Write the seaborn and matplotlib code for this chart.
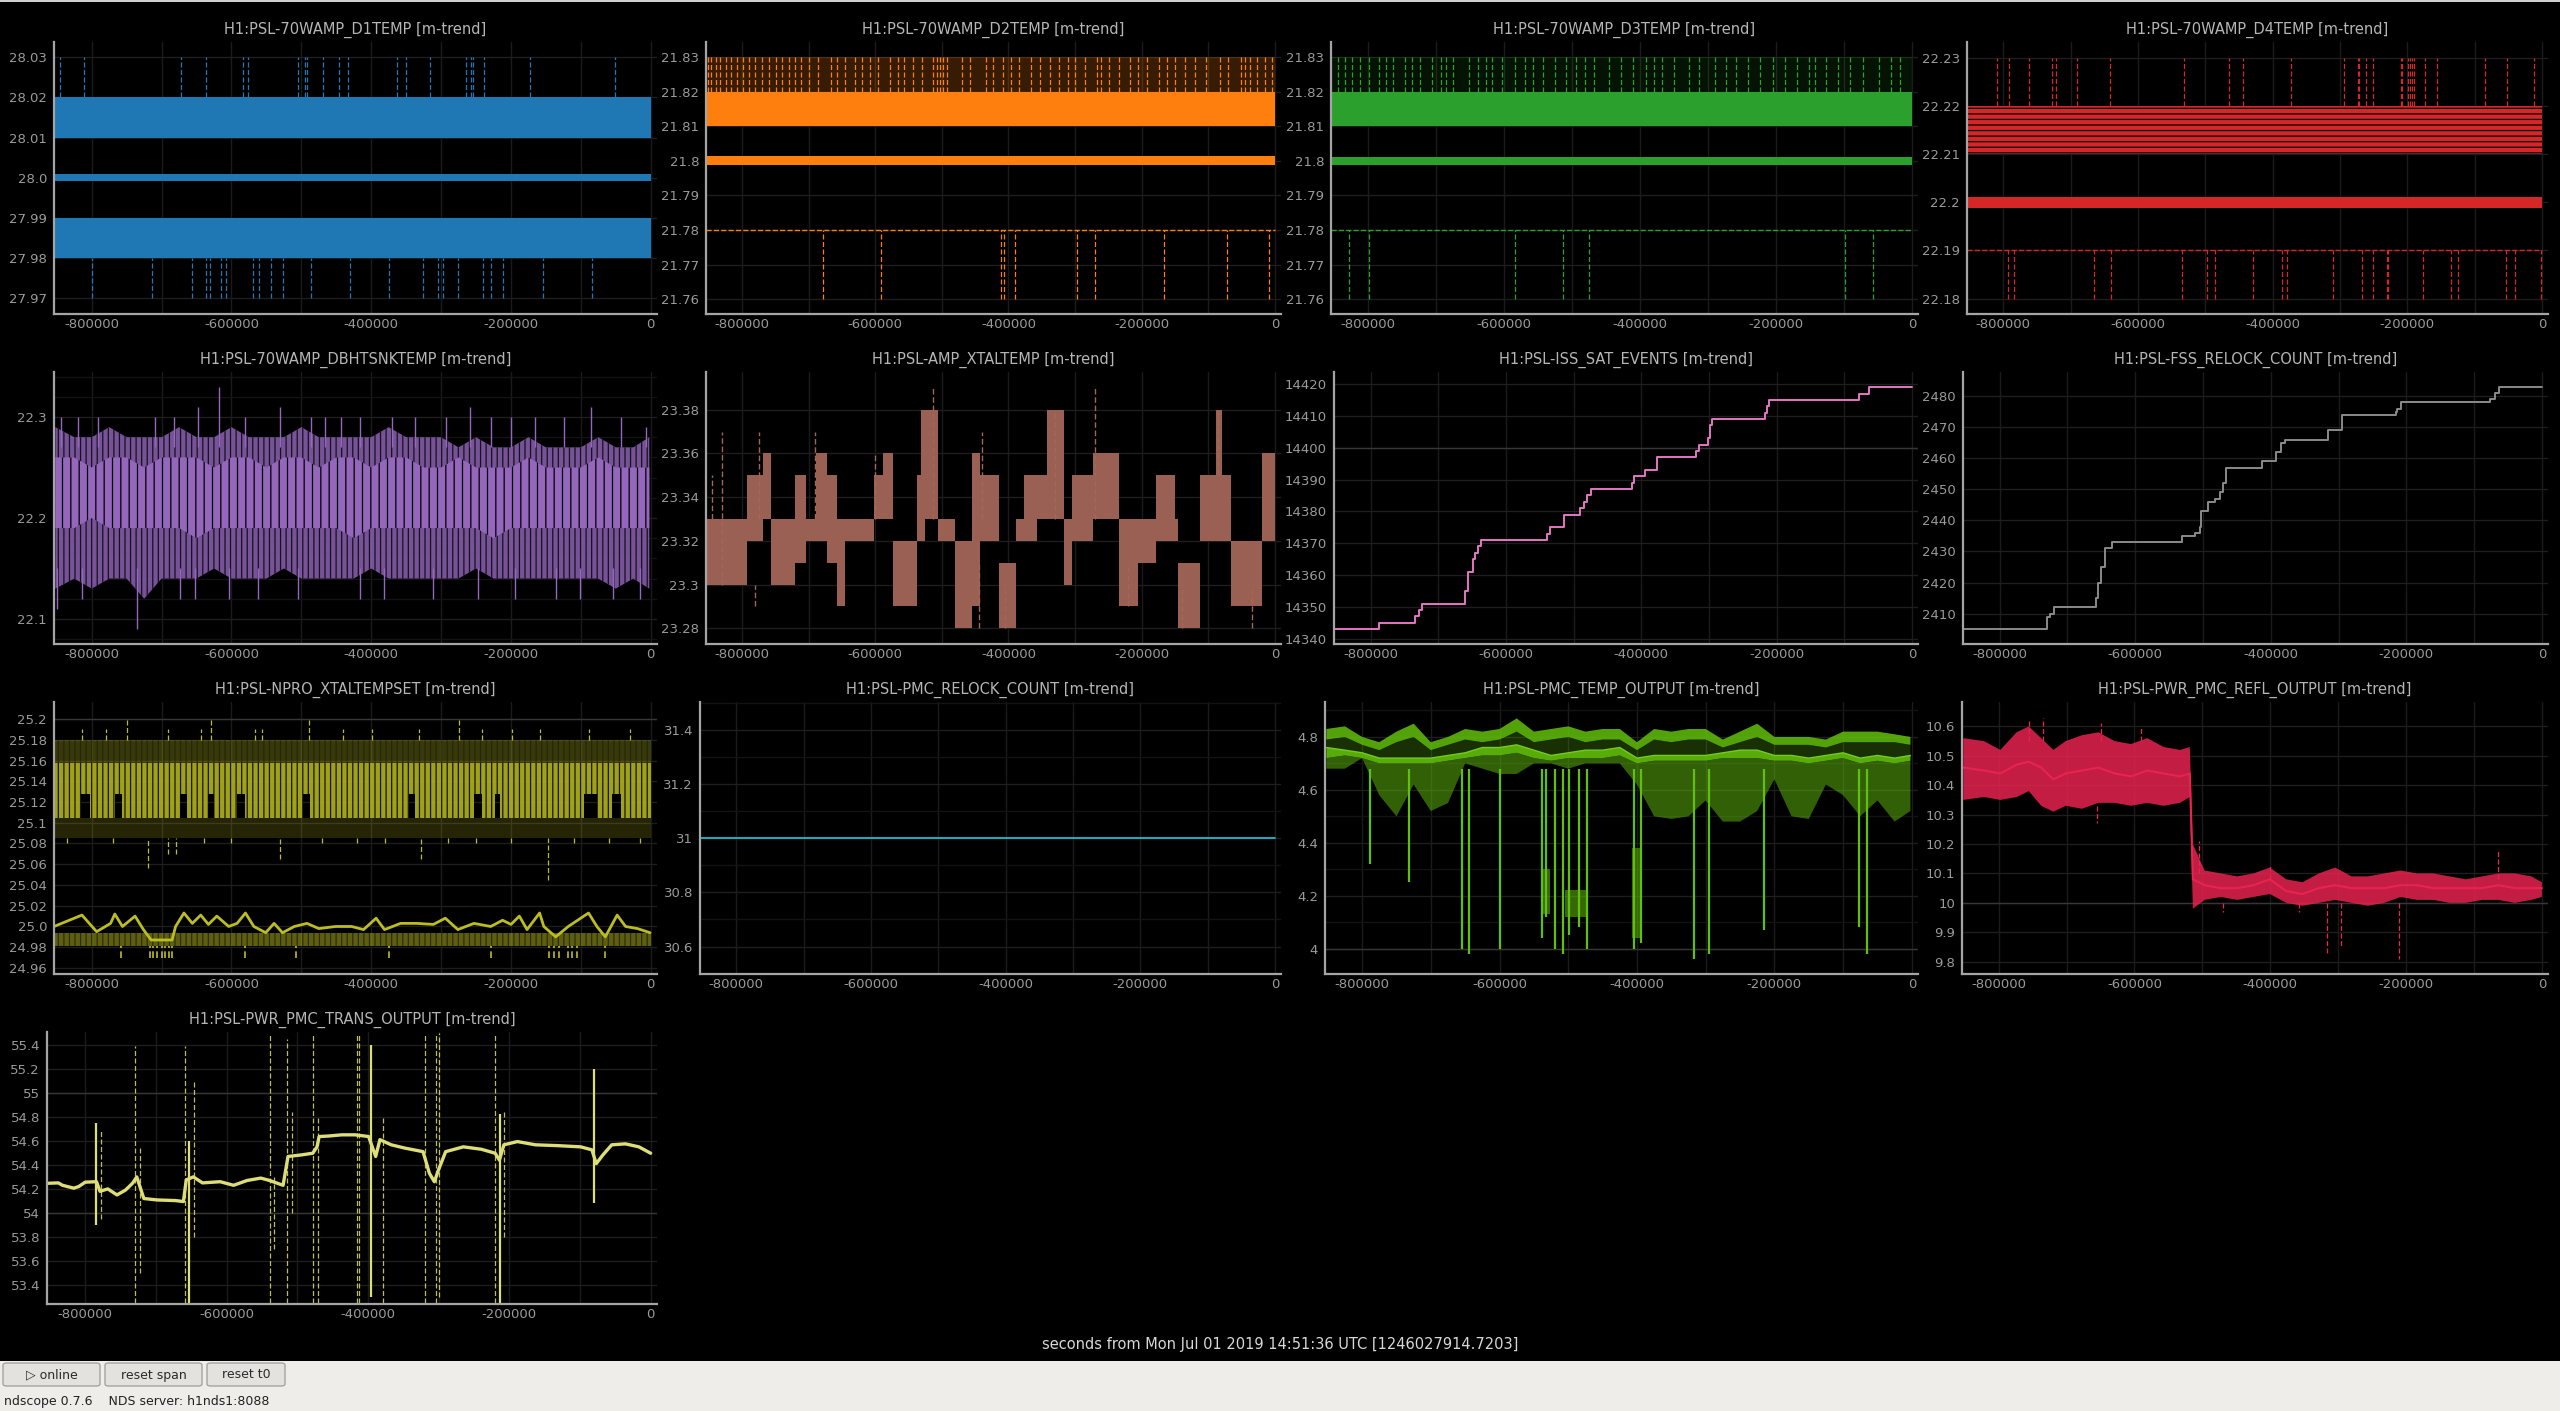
import numpy as np
import matplotlib
matplotlib.use("Agg")
import matplotlib.pyplot as plt
from matplotlib.patches import Rectangle, FancyBboxPatch
from matplotlib.ticker import MultipleLocator
import seaborn as sns

# tema gelap ala ndscope
sns.set_theme(style="dark", rc={
    "figure.facecolor": "black", "axes.facecolor": "black",
    "axes.edgecolor": "#a0a0a0", "text.color": "#b5b5b5",
    "xtick.color": "#9a9a9a", "ytick.color": "#9a9a9a",
    "hatch.linewidth": 0.9,
})
plt.rcParams["font.family"] = ["DejaVu Sans"]

# ---------------- data ----------------
t_span = [-854000, 0]
x_ticks = [-800000, -600000, -400000, -200000, 0]
x_tick_labels = ["-800000", "-600000", "-400000", "-200000", "0"]
grid35 = [-852e3, -825e3, -800e3, -775e3, -750e3, -725e3, -700e3, -675e3, -650e3, -625e3,
          -600e3, -575e3, -550e3, -525e3, -500e3, -475e3, -450e3, -425e3, -400e3, -375e3,
          -350e3, -325e3, -300e3, -275e3, -250e3, -225e3, -200e3, -175e3, -150e3, -125e3,
          -100e3, -75e3, -50e3, -25e3, -2e3]

titles = ["H1:PSL-70WAMP_D1TEMP [m-trend]", "H1:PSL-70WAMP_D2TEMP [m-trend]",
          "H1:PSL-70WAMP_D3TEMP [m-trend]", "H1:PSL-70WAMP_D4TEMP [m-trend]",
          "H1:PSL-70WAMP_DBHTSNKTEMP [m-trend]", "H1:PSL-AMP_XTALTEMP [m-trend]",
          "H1:PSL-ISS_SAT_EVENTS [m-trend]", "H1:PSL-FSS_RELOCK_COUNT [m-trend]",
          "H1:PSL-NPRO_XTALTEMPSET [m-trend]", "H1:PSL-PMC_RELOCK_COUNT [m-trend]",
          "H1:PSL-PMC_TEMP_OUTPUT [m-trend]", "H1:PSL-PWR_PMC_REFL_OUTPUT [m-trend]",
          "H1:PSL-PWR_PMC_TRANS_OUTPUT [m-trend]"]

# D1TEMP
d1_mean_band = (27.9991, 28.0009)
d1_max_band = (28.01, 28.02)
d1_min_band = (27.98, 27.99)
d1_spike_hi, d1_spike_lo = 28.03, 27.97
d1_up_x = [-846e3, -811.5e3, -672.6e3, -636.8e3, -583.7e3, -576e3, -504.3e3, -495.4e3, -492.2e3,
           -468.5e3, -445.4e3, -432.6e3, -362.9e3, -350.1e3, -315.5e3, -263.7e3, -256.6e3,
           -254.1e3, -238.1e3, -172.2e3, -51.8e3]
d1_dn_x = [-800e3, -714.2e3, -656.6e3, -636.2e3, -631e3, -615.7e3, -607.4e3, -569e3, -560e3,
           -544e3, -526e3, -485.8e3, -430e3, -374.4e3, -326.4e3, -304e3, -297.6e3, -275.2e3,
           -240.6e3, -228.5e3, -211.2e3, -154.2e3, -84.5e3]

# D2TEMP
d2_mean_band = (21.7987, 21.8013)
d2_max_band = (21.81, 21.82)
d2_min_level = 21.78
d2_spike_hi, d2_spike_lo = 21.83, 21.76
d2_up_x = [-851.7e3, -846.8e3, -839.4e3, -833.2e3, -824.6e3, -817.2e3, -807.4e3, -798.8e3,
           -790.2e3, -780.3e3, -769.3e3, -759.5e3, -749.6e3, -739.8e3, -730e3, -720.2e3,
           -711.6e3, -699.3e3, -685.5e3, -667.1e3, -657.2e3, -644.9e3, -630.2e3, -620.3e3,
           -608e3, -595.7e3, -577.2e3, -566.2e3, -556.3e3, -544e3, -529.2e3, -513.2e3,
           -507.1e3, -503.4e3, -498.5e3, -492.3e3, -470.2e3, -457.9e3, -433.2e3, -423.4e3,
           -408.6e3, -396.3e3, -384e3, -365.5e3, -352e3, -337.2e3, -324.9e3, -310.2e3,
           -300.3e3, -285.5e3, -267.1e3, -260.9e3, -248.6e3, -233.9e3, -217.9e3, -205.5e3,
           -192e3, -174.8e3, -162.5e3, -150.2e3, -135.4e3, -119.4e3, -103.4e3, -82.5e3,
           -70.2e3, -51.7e3, -45.5e3, -36.9e3, -27.1e3, -14.8e3, -4.9e3]
d2_dn_x = [-678.2e3, -592e3, -411e3, -407.4e3, -390.2e3, -296.6e3, -270.8e3, -166.2e3,
           -72.6e3, -8.6e3]

# D3TEMP
d3_mean_band = (21.7988, 21.8012)
d3_max_band = (21.81, 21.82)
d3_min_level = 21.78
d3_spike_hi, d3_spike_lo = 21.83, 21.76
d3_up_x = [-843.4e3, -833.7e3, -822.9e3, -812e3, -797.6e3, -783.1e3, -773.5e3, -762.6e3,
           -744.6e3, -734.9e3, -722.9e3, -704.8e3, -692.8e3, -684.3e3, -674.7e3, -650.6e3,
           -638.5e3, -626.5e3, -618e3, -602.4e3, -583.1e3, -568.7e3, -556.6e3, -542.2e3,
           -524.1e3, -508.4e3, -494e3, -480.7e3, -467.5e3, -445.8e3, -427.7e3, -409.6e3,
           -391.6e3, -379.5e3, -367.5e3, -349.4e3, -327.7e3, -313.2e3, -289.2e3, -273.5e3,
           -259e3, -241e3, -222.9e3, -204.8e3, -186.7e3, -168.7e3, -150.6e3, -142.2e3,
           -126.5e3, -108.4e3, -90.4e3, -72.3e3, -48.2e3, -30.1e3, -18.1e3]
d3_dn_x = [-827.7e3, -798.8e3, -583.1e3, -513.2e3, -474.7e3, -97.6e3, -57.8e3]

# D4TEMP
d4_mean_band = (22.1989, 22.2011)
d4_max_band = (22.21, 22.22)
d4_min_level = 22.19
d4_spike_hi, d4_spike_lo = 22.23, 22.18
d4_up_x = [-808.8e3, -791.9e3, -761.2e3, -728e3, -722.4e3, -691e3, -642.2e3, -531.9e3, -464.9e3,
           -444.2e3, -372.8e3, -294.5e3, -273.8e3, -271.3e3, -261.3e3, -251.3e3, -209.9e3,
           -207.4e3, -198.6e3, -195.5e3, -193e3, -189.9e3, -174.2e3, -156.6e3, -83.9e3,
           -51.4e3, -11.3e3]
d4_dn_x = [-793.8e3, -783.8e3, -666e3, -640.3e3, -535e3, -496.8e3, -485.5e3, -429.2e3, -386e3,
           -378.4e3, -310.1e3, -266.9e3, -250.6e3, -230.6e3, -229.3e3, -176e3, -134.7e3,
           -125.3e3, -53.9e3, -39.5e3, -1.3e3]

# DBHTSNKTEMP
dbht_max = [22.29, 22.28, 22.28, 22.29, 22.28, 22.28, 22.28, 22.29, 22.28, 22.28,
            22.29, 22.28, 22.28, 22.28, 22.29, 22.28, 22.28, 22.28, 22.28, 22.29,
            22.28, 22.28, 22.28, 22.27, 22.28, 22.27, 22.27, 22.28, 22.27, 22.27,
            22.27, 22.28, 22.27, 22.27, 22.28]
dbht_min = [22.13, 22.14, 22.13, 22.14, 22.14, 22.12, 22.14, 22.14, 22.14, 22.15,
            22.14, 22.14, 22.14, 22.15, 22.14, 22.14, 22.14, 22.14, 22.15, 22.14,
            22.14, 22.14, 22.14, 22.14, 22.15, 22.14, 22.14, 22.14, 22.14, 22.14,
            22.14, 22.14, 22.13, 22.14, 22.13]
dbht_core_hi = [22.26, 22.26, 22.25, 22.26, 22.26, 22.25, 22.26, 22.26, 22.26, 22.25,
                22.26, 22.26, 22.25, 22.26, 22.26, 22.25, 22.26, 22.26, 22.25, 22.26,
                22.26, 22.25, 22.25, 22.26, 22.25, 22.25, 22.25, 22.26, 22.25, 22.25,
                22.25, 22.26, 22.25, 22.25, 22.25]
dbht_core_lo = [22.19, 22.19, 22.20, 22.19, 22.19, 22.19, 22.19, 22.19, 22.18, 22.19,
                22.19, 22.19, 22.19, 22.19, 22.19, 22.19, 22.19, 22.18, 22.19, 22.19,
                22.19, 22.19, 22.19, 22.19, 22.19, 22.18, 22.19, 22.19, 22.19, 22.19,
                22.19, 22.19, 22.19, 22.19, 22.19]
dbht_up_x = [-843.3e3, -819.9e3, -790.6e3, -708.8e3, -681.9e3, -648e3, -617.5e3, -580.1e3,
             -531e3, -486.5e3, -465.5e3, -443.3e3, -416.4e3, -369.6e3, -338e3, -293.6e3,
             -258.5e3, -229.2e3, -200e3, -164.9e3, -124e3, -85.4e3, -42.1e3, -7e3]
dbht_up_y = [22.30, 22.30, 22.30, 22.30, 22.30, 22.31, 22.33, 22.30, 22.31, 22.30, 22.30, 22.30,
             22.30, 22.30, 22.30, 22.30, 22.31, 22.30, 22.30, 22.30, 22.30, 22.31, 22.30, 22.29]
dbht_dn_x = [-849.1e3, -814e3, -734.5e3, -673.7e3, -652.6e3, -603.5e3, -562.6e3, -504.1e3,
             -416.4e3, -381.3e3, -311.1e3, -246.8e3, -194.2e3, -135.7e3, -100.6e3, -53.8e3, -15.2e3]
dbht_dn_y = [22.11, 22.12, 22.09, 22.12, 22.12, 22.12, 22.12, 22.12, 22.12, 22.12, 22.12,
             22.12, 22.12, 22.12, 22.12, 22.12, 22.12]

# AMP_XTALTEMP
xtal_x = [-854e3, -792e3, -768e3, -756e3, -721e3, -704e3, -689e3, -673e3, -657e3, -645e3,
          -602e3, -588e3, -574e3, -537e3, -531e3, -525e3, -506e3, -481e3, -455e3, -443e3,
          -414e3, -389e3, -376e3, -357e3, -342e3, -316e3, -305e3, -273e3, -234e3, -205e3,
          -178e3, -150e3, -146e3, -112e3, -88e3, -79e3, -66e3, -19e3, 0]
xtal_hi = [23.33, 23.35, 23.36, 23.33, 23.35, 23.33, 23.36, 23.35, 23.33, 23.33,
           23.35, 23.36, 23.32, 23.35, 23.38, 23.38, 23.33, 23.32, 23.36, 23.35,
           23.31, 23.33, 23.35, 23.35, 23.38, 23.33, 23.35, 23.36, 23.33, 23.33,
           23.35, 23.33, 23.31, 23.35, 23.38, 23.35, 23.32, 23.36, 23.36]
xtal_lo = [23.30, 23.32, 23.33, 23.30, 23.31, 23.32, 23.32, 23.31, 23.29, 23.32,
           23.33, 23.33, 23.29, 23.32, 23.32, 23.33, 23.32, 23.28, 23.29, 23.32,
           23.28, 23.32, 23.32, 23.33, 23.33, 23.30, 23.32, 23.33, 23.29, 23.31,
           23.32, 23.32, 23.28, 23.32, 23.32, 23.32, 23.29, 23.32, 23.32]
xtal_spk_x = [-845e3, -830e3, -775e3, -690e3, -600e3, -513e3, -440e3, -330e3, -270e3, -85e3,
              -780e3, -445e3, -405e3, -220e3, -140e3, -35e3]
xtal_spk_lo = [23.33, 23.30, 23.33, 23.33, 23.33, 23.33, 23.33, 23.33, 23.33, 23.35,
               23.29, 23.28, 23.28, 23.29, 23.28, 23.28]
xtal_spk_hi = [23.35, 23.37, 23.37, 23.37, 23.36, 23.39, 23.37, 23.38, 23.39, 23.38,
               23.30, 23.31, 23.30, 23.31, 23.30, 23.30]

# ISS_SAT_EVENTS
iss_x = [-854e3, -787.8e3, -734.3e3, -728.3e3, -724.6e3, -660.2e3, -655.3e3, -649.2e3, -645.6e3,
         -640.7e3, -637.1e3, -538.6e3, -535e3, -514.3e3, -491.2e3, -485.1e3, -480.3e3, -474.2e3,
         -413.4e3, -411e3, -393.9e3, -376.9e3, -318.5e3, -314.9e3, -301.5e3, -299.1e3, -295.4e3,
         -217.6e3, -214e3, -211.5e3, -77.8e3, -63.2e3, 0]
iss_y = [14343, 14345, 14347, 14349, 14351, 14355, 14361, 14365, 14367, 14369, 14371, 14373,
         14375, 14379, 14381, 14383, 14385, 14387, 14389, 14391, 14393, 14397, 14399, 14401,
         14403, 14407, 14409, 14411, 14413, 14415, 14417, 14419, 14419]

# FSS_RELOCK_COUNT
fss_x = [-854e3, -730.1e3, -725.3e3, -719.3e3, -657.8e3, -654.2e3, -650.6e3, -644.6e3, -633.7e3,
         -531.3e3, -512e3, -504.8e3, -502.4e3, -492.8e3, -481.9e3, -474.7e3, -469.9e3, -466.3e3,
         -413.2e3, -392.8e3, -384.4e3, -379.5e3, -315.7e3, -295.2e3, -215.7e3, -213.2e3,
         -208.4e3, -75.9e3, -68.7e3, -63.9e3, 0]
fss_y = [2405, 2409, 2410, 2412, 2415, 2420, 2425, 2431, 2433, 2435, 2436, 2438, 2443, 2446,
         2447, 2449, 2452, 2457, 2459, 2462, 2465, 2466, 2469, 2474, 2475, 2476, 2478, 2479,
         2481, 2483, 2483]

# NPRO_XTALTEMPSET
npro_top_sparse = (25.158, 25.18)
npro_core_hi = (25.128, 25.158)
npro_core_lo = (25.105, 25.128)
npro_bot_sparse = (25.085, 25.105)
npro_min_band = (24.981, 24.994)
npro_gap_start = [-816e3, -767e3, -674e3, -633e3, -592e3, -498e3, -346e3, -253e3, -223e3, -95e3, -56e3]
npro_gap_end = [-802e3, -756e3, -664e3, -625e3, -580e3, -487e3, -337e3, -241e3, -215e3, -77e3, -42e3]
npro_mean_x = [-854e3, -814e3, -793e3, -773e3, -767e3, -756e3, -738e3, -726e3, -715e3, -685e3,
               -680e3, -668e3, -656e3, -644e3, -633e3, -621e3, -604e3, -592e3, -580e3, -568e3,
               -551e3, -539e3, -527e3, -510e3, -492e3, -475e3, -451e3, -428e3, -411e3, -393e3,
               -381e3, -358e3, -335e3, -311e3, -294e3, -276e3, -253e3, -229e3, -212e3, -200e3,
               -188e3, -177e3, -159e3, -153e3, -136e3, -118e3, -89e3, -77e3, -65e3, -48e3,
               -36e3, -19e3, -1e3]
npro_mean_y = [25.000, 25.011, 24.995, 25.003, 25.012, 25.000, 25.010, 24.997, 24.987, 24.987,
               25.000, 25.013, 25.003, 25.011, 25.002, 25.010, 25.000, 25.003, 25.013, 25.000,
               24.994, 25.003, 24.994, 25.000, 25.003, 24.998, 25.000, 25.000, 24.997, 25.008,
               24.997, 25.003, 25.003, 25.002, 25.008, 24.997, 25.003, 25.000, 25.006, 25.002,
               25.010, 24.997, 25.013, 25.000, 24.990, 25.000, 25.013, 25.000, 24.990, 25.011,
               25.000, 24.998, 24.994]
npro_up_x = [-814e3, -779e3, -750e3, -691e3, -644e3, -629e3, -566e3, -557e3, -489e3, -440e3,
             -399e3, -332e3, -274e3, -241e3, -198e3, -159e3, -89e3, -30e3]
npro_up_y = [25.19, 25.19, 25.20, 25.19, 25.19, 25.20, 25.19, 25.19, 25.20, 25.19,
             25.19, 25.19, 25.20, 25.19, 25.19, 25.19, 25.19, 25.19]
npro_dn_x = [-835e3, -770e3, -720e3, -691e3, -680e3, -640e3, -600e3, -531e3, -470e3, -420e3,
             -380e3, -329e3, -290e3, -250e3, -200e3, -147e3, -110e3, -60e3, -15e3]
npro_dn_y = [25.08, 25.08, 25.056, 25.07, 25.07, 25.08, 25.08, 25.065, 25.08, 25.08,
             25.08, 25.065, 25.08, 25.08, 25.08, 25.045, 25.08, 25.08, 25.08]
npro_dip_x = [-758e3, -717e3, -712e3, -706e3, -700e3, -695e3, -690e3, -685e3, -580e3, -508e3,
              -375e3, -229e3, -145e3, -138e3, -131e3, -118e3, -112e3, -106e3, -65e3]
npro_dip_y = 24.97

# PMC_RELOCK_COUNT
relock_y = [31, 31]

# PMC_TEMP_OUTPUT
temp_max = [4.83, 4.84, 4.80, 4.78, 4.82, 4.85, 4.78, 4.80, 4.83, 4.82,
            4.83, 4.87, 4.82, 4.83, 4.84, 4.82, 4.83, 4.83, 4.78, 4.83,
            4.82, 4.83, 4.83, 4.79, 4.82, 4.85, 4.80, 4.80, 4.80, 4.79,
            4.82, 4.82, 4.82, 4.81, 4.80]
temp_max_lo = [4.79, 4.80, 4.77, 4.75, 4.78, 4.80, 4.75, 4.77, 4.79, 4.78,
               4.79, 4.82, 4.78, 4.79, 4.80, 4.78, 4.79, 4.79, 4.75, 4.79,
               4.78, 4.79, 4.79, 4.76, 4.78, 4.80, 4.77, 4.77, 4.77, 4.76,
               4.78, 4.78, 4.78, 4.78, 4.77]
temp_mean = [4.76, 4.75, 4.74, 4.72, 4.72, 4.72, 4.72, 4.73, 4.74, 4.76,
             4.76, 4.77, 4.75, 4.73, 4.74, 4.75, 4.75, 4.76, 4.72, 4.73,
             4.73, 4.73, 4.73, 4.74, 4.75, 4.75, 4.73, 4.73, 4.72, 4.73,
             4.74, 4.72, 4.73, 4.72, 4.73]
temp_dense_lo = [4.72, 4.73, 4.72, 4.70, 4.70, 4.70, 4.70, 4.71, 4.72, 4.73,
                 4.73, 4.74, 4.72, 4.71, 4.72, 4.72, 4.72, 4.73, 4.70, 4.71,
                 4.71, 4.71, 4.71, 4.72, 4.72, 4.72, 4.71, 4.71, 4.70, 4.71,
                 4.72, 4.70, 4.71, 4.70, 4.71]
temp_min = [4.68, 4.68, 4.72, 4.58, 4.50, 4.62, 4.52, 4.55, 4.70, 4.68,
            4.66, 4.66, 4.70, 4.70, 4.68, 4.70, 4.70, 4.70, 4.62, 4.50,
            4.49, 4.50, 4.56, 4.48, 4.48, 4.52, 4.64, 4.50, 4.49, 4.62,
            4.58, 4.50, 4.56, 4.48, 4.52]
temp_drop_x = [-788e3, -732e3, -654.6e3, -645e3, -599.7e3, -537.7e3, -531.8e3, -520e3, -508e3,
               -499.6e3, -484e3, -472e3, -404e3, -394.7e3, -317e3, -295.7e3, -215.8e3, -77.5e3, -65.6e3]
temp_drop_y = [4.32, 4.25, 4.00, 3.98, 4.00, 4.04, 4.12, 4.00, 3.98, 4.05, 4.08, 4.00, 4.00,
               4.02, 3.96, 3.98, 4.07, 4.08, 3.98]
temp_blob_x0 = [-540e3, -505e3, -407e3]
temp_blob_x1 = [-526e3, -472e3, -394e3]
temp_blob_lo = [4.13, 4.12, 4.04]
temp_blob_hi = [4.30, 4.22, 4.38]

# PWR_PMC_REFL_OUTPUT
refl_x = [-852e3, -821.6e3, -797.6e3, -773.5e3, -755.5e3, -737.4e3, -719.4e3, -701.3e3, -677.3e3,
          -653.2e3, -629.2e3, -605.1e3, -581e3, -557e3, -533e3, -518.5e3, -514e3, -496.8e3,
          -472.8e3, -448.7e3, -424.7e3, -400.6e3, -376.5e3, -352.5e3, -328.4e3, -304.4e3,
          -280.3e3, -256.2e3, -232.2e3, -208.1e3, -184.1e3, -160e3, -135.9e3, -111.9e3,
          -87.8e3, -63.8e3, -39.7e3, -15.6e3, 0]
refl_hi = [10.56, 10.55, 10.52, 10.58, 10.60, 10.56, 10.52, 10.55, 10.57, 10.58, 10.55, 10.54,
           10.56, 10.53, 10.52, 10.53, 10.20, 10.11, 10.10, 10.09, 10.10, 10.12, 10.08, 10.07,
           10.10, 10.12, 10.09, 10.09, 10.10, 10.11, 10.10, 10.10, 10.09, 10.08, 10.09, 10.10,
           10.10, 10.09, 10.07]
refl_lo = [10.35, 10.36, 10.35, 10.36, 10.38, 10.33, 10.31, 10.33, 10.32, 10.34, 10.34, 10.33,
           10.34, 10.33, 10.34, 10.36, 9.98, 10.01, 10.02, 10.01, 10.02, 10.03, 10.00, 9.99,
           10.00, 10.01, 10.00, 9.99, 10.00, 10.02, 10.01, 10.01, 10.00, 10.00, 10.01, 10.01,
           10.00, 10.01, 10.02]
refl_mean = [10.46, 10.45, 10.44, 10.47, 10.48, 10.46, 10.42, 10.44, 10.45, 10.46, 10.44, 10.43,
             10.45, 10.44, 10.43, 10.44, 10.08, 10.06, 10.05, 10.05, 10.06, 10.08, 10.04, 10.03,
             10.05, 10.06, 10.05, 10.05, 10.05, 10.06, 10.06, 10.05, 10.05, 10.05, 10.05, 10.06,
             10.05, 10.05, 10.05]
refl_spk_x = [-755e3, -735e3, -650e3, -590e3, -655.6e3, -505e3, -470e3, -400e3, -357e3,
              -316e3, -296e3, -210.5e3, -64e3]
refl_spk_y0 = [10.55, 10.55, 10.55, 10.55, 10.33, 10.10, 10.00, 10.08, 10.00, 10.00, 10.00, 10.00, 10.08]
refl_spk_y1 = [10.62, 10.63, 10.61, 10.60, 10.27, 10.21, 9.97, 10.13, 9.97, 9.83, 9.85, 9.81, 10.18]

# PWR_PMC_TRANS_OUTPUT
trans_x = [-852e3, -838e3, -832e3, -816e3, -809e3, -800e3, -784e3, -779e3, -768e3, -755e3,
           -743e3, -733e3, -727e3, -717e3, -698e3, -672.6e3, -661e3, -657e3, -647e3, -634e3,
           -609e3, -590e3, -571e3, -551.5e3, -539e3, -520e3, -513e3, -494e3, -478e3, -472e3,
           -469e3, -456e3, -437e3, -418e3, -399e3, -389e3, -383e3, -367e3, -348e3, -322e3,
           -313e3, -306e3, -300e3, -290e3, -265e3, -239.5e3, -220e3, -214e3, -207.6e3, -188.5e3,
           -163e3, -131e3, -99e3, -83e3, -77e3, -67.5e3, -55e3, -35.7e3, -16.6e3, 0]
trans_y = [54.247, 54.25, 54.23, 54.206, 54.22, 54.256, 54.26, 54.18, 54.20, 54.15,
           54.19, 54.247, 54.30, 54.12, 54.108, 54.103, 54.095, 54.275, 54.30, 54.25,
           54.26, 54.23, 54.27, 54.29, 54.27, 54.23, 54.47, 54.483, 54.497, 54.55,
           54.636, 54.64, 54.65, 54.65, 54.636, 54.47, 54.61, 54.567, 54.54, 54.51,
           54.33, 54.26, 54.36, 54.51, 54.55, 54.53, 54.497, 54.44, 54.567, 54.594,
           54.567, 54.56, 54.55, 54.525, 54.41, 54.483, 54.567, 54.575, 54.55, 54.497]
trans_spk_x = [-778e3, -730e3, -723e3, -659e3, -646e3, -539e3, -532.6e3, -514.6e3, -507e3,
               -477e3, -471e3, -416e3, -412e3, -378e3, -319e3, -303e3, -299e3, -220e3, -207.6e3]
trans_spk_top = [54.68, 55.39, 54.55, 55.39, 55.1, 55.5, 54.3, 55.45, 54.84, 55.5, 54.8, 55.5,
                 55.5, 54.8, 55.5, 55.5, 55.5, 55.5, 54.85]
trans_spk_bot = [53.95, 53.25, 53.5, 53.25, 53.8, 53.25, 53.7, 53.25, 54.0, 53.25, 53.25, 53.25,
                 53.25, 53.25, 53.25, 53.25, 53.3, 53.25, 53.8]
trans_solid_x = [-784e3, -653e3, -395e3, -212.7e3, -80e3]
trans_solid_top = [54.75, 54.6, 55.4, 54.82, 55.2]
trans_solid_bot = [53.9, 53.25, 53.3, 53.25, 54.08]

colors = ["#1f77b4", "#ff7f0e", "#2ca02c", "#d62728", "#9467bd", "#a36658", "#e377c2",
          "#8a8a8a", "#bcbd22", "#17becf", "#62c00c", "#e8234f", "#dede78"]

# ---------------- layout ----------------
W, H = 2560, 1411
ROW_TOP = [42, 372, 702, 1032]
PANEL_H = 272
COL_RIGHT = [657, 1281, 1918, 2548]
PANEL_LEFT = [[54, 706, 1331, 1967], [54, 706, 1334, 1963], [54, 700, 1325, 1962], [47]]
XLIM = (-854000, 9000)
DASH = (0, (4, 2))
TEXTURE = (0, 0, 0, 0.35)

fig = plt.figure(figsize=(W / 100, H / 100), dpi=100, facecolor="black")


def make_ax(r, c):
    left = PANEL_LEFT[r][c]
    top = ROW_TOP[r]
    return fig.add_axes([left / W, 1 - (top + PANEL_H) / H, (COL_RIGHT[c] - left) / W, PANEL_H / H])


def style(ax, idx, ylim, yticks, ylabels, yminor=None, yhi=()):
    ax.set_xlim(XLIM)
    ax.set_ylim(ylim)
    ax.set_xticks(x_ticks)
    ax.set_xticklabels(x_tick_labels)
    ax.set_yticks(yticks)
    ax.set_yticklabels(ylabels)
    ax.xaxis.set_minor_locator(MultipleLocator(100000))
    ax.grid(which="both", axis="x", color="#1b1b1b", lw=1)
    ax.grid(which="major", axis="y", color="#1e1e1e", lw=1)
    if yminor:
        ax.yaxis.set_minor_locator(MultipleLocator(yminor))
        ax.grid(which="minor", axis="y", color="#131313", lw=1)
    for v in yhi:
        ax.axhline(v, color="#363636", lw=1, zorder=0.6)
    ax.set_axisbelow(True)
    ax.tick_params(which="both", length=0, labelsize=9.5, colors="#9a9a9a")
    ax.tick_params(axis="x", pad=3)
    ax.tick_params(axis="y", pad=5)
    for s in ["top", "right"]:
        ax.spines[s].set_visible(False)
    for s in ["left", "bottom"]:
        ax.spines[s].set_color("#a5a5a5")
        ax.spines[s].set_linewidth(1.6)
    ax.set_xlabel("")
    ax.set_ylabel("")
    ax.set_title(titles[idx], color="#b5b5b5", fontsize=10.5, pad=6)


def spikes(ax, xs, y0, y1, color, lw=0.9, ls=DASH, alpha=1.0):
    ax.vlines(xs, y0, y1, colors=color, lw=lw, linestyles=[ls], alpha=alpha)


def line(ax, x, y, color, lw, **kw):
    sns.lineplot(x=x, y=y, ax=ax, color=color, lw=lw, estimator=None, sort=False,
                 legend=False, **kw)


def band(ax, x, lo, hi, color, alpha=1.0, hatch=None, tex=TEXTURE, **kw):
    ax.fill_between(x, lo, hi, facecolor=color, alpha=alpha, lw=0,
                    edgecolor=tex if hatch else "none", hatch=hatch, **kw)


def temp_band_panel(ax, c, mean_band, max_band, up_x, spike_hi, min_level, dn_x, spike_lo,
                    faint=0.0, hatch=None):
    band(ax, t_span, max_band[0], max_band[1], c, hatch=hatch, tex=(0, 0, 0, 0.45))
    if faint:
        band(ax, t_span, max_band[1], spike_hi, c, alpha=faint)
    spikes(ax, up_x, max_band[1], spike_hi, c)
    band(ax, t_span, mean_band[0], mean_band[1], c)
    line(ax, t_span, [min_level, min_level], c, 1.0, linestyle="--")
    spikes(ax, dn_x, spike_lo, min_level, c)


# row 1 -------------------------------------------------------------
ax = make_ax(0, 0)
c = colors[0]
band(ax, t_span, d1_max_band[0], d1_max_band[1], c)
band(ax, t_span, d1_min_band[0], d1_min_band[1], c)
band(ax, t_span, d1_mean_band[0], d1_mean_band[1], c)
spikes(ax, d1_up_x, d1_max_band[1], d1_spike_hi, c)
spikes(ax, d1_dn_x, d1_spike_lo, d1_min_band[0], c)
style(ax, 0, (27.9661, 28.0338), [27.97, 27.98, 27.99, 28.0, 28.01, 28.02, 28.03],
      ["27.97", "27.98", "27.99", "28.0", "28.01", "28.02", "28.03"])

d2_ticks = [21.76, 21.77, 21.78, 21.79, 21.8, 21.81, 21.82, 21.83]
d2_labels = ["21.76", "21.77", "21.78", "21.79", "21.8", "21.81", "21.82", "21.83"]
ax = make_ax(0, 1)
temp_band_panel(ax, colors[1], d2_mean_band, d2_max_band, d2_up_x, d2_spike_hi,
                d2_min_level, d2_dn_x, d2_spike_lo, faint=0.22)
style(ax, 1, (21.7557, 21.8344), d2_ticks, d2_labels)

ax = make_ax(0, 2)
temp_band_panel(ax, colors[2], d3_mean_band, d3_max_band, d3_up_x, d3_spike_hi,
                d3_min_level, d3_dn_x, d3_spike_lo, faint=0.12)
style(ax, 2, (21.7557, 21.8344), d2_ticks, d2_labels)

ax = make_ax(0, 3)
temp_band_panel(ax, colors[3], d4_mean_band, d4_max_band, d4_up_x, d4_spike_hi,
                d4_min_level, d4_dn_x, d4_spike_lo, hatch="---")
style(ax, 3, (22.1768, 22.2333), [22.18, 22.19, 22.2, 22.21, 22.22, 22.23],
      ["22.18", "22.19", "22.2", "22.21", "22.22", "22.23"])

# row 2 -------------------------------------------------------------
ax = make_ax(1, 0)
c = colors[4]
band(ax, grid35, dbht_min, dbht_max, c, alpha=0.8, hatch="|||", tex=(0, 0, 0, 0.3))
band(ax, grid35, dbht_core_lo, dbht_core_hi, c, hatch="||", tex=(0, 0, 0, 0.25))
spikes(ax, dbht_up_x, 22.27, dbht_up_y, c, lw=1.0, ls="-")
spikes(ax, dbht_dn_x, dbht_dn_y, 22.15, c, lw=1.0, ls="-")
style(ax, 4, (22.0752, 22.3446), [22.1, 22.2, 22.3], ["22.1", "22.2", "22.3"], yminor=0.02)

ax = make_ax(1, 1)
c = colors[5]
band(ax, xtal_x, xtal_lo, xtal_hi, c, alpha=0.95, step="post")
spikes(ax, xtal_spk_x, xtal_spk_lo, xtal_spk_hi, c, lw=1.0)
style(ax, 5, (23.2728, 23.3973), [23.28, 23.3, 23.32, 23.34, 23.36, 23.38],
      ["23.28", "23.3", "23.32", "23.34", "23.36", "23.38"])

ax = make_ax(1, 2)
line(ax, iss_x, iss_y, colors[6], 1.4, drawstyle="steps-post")
style(ax, 6, (14338.3, 14423.8), list(range(14340, 14421, 10)),
      [str(v) for v in range(14340, 14421, 10)], yhi=[14400])

ax = make_ax(1, 3)
line(ax, fss_x, fss_y, colors[7], 1.4, drawstyle="steps-post")
style(ax, 7, (2400.2, 2487.8), list(range(2410, 2481, 10)),
      [str(v) for v in range(2410, 2481, 10)])

# row 3 -------------------------------------------------------------
ax = make_ax(2, 0)
c = colors[8]
band(ax, t_span, npro_top_sparse[0], npro_top_sparse[1], c, alpha=0.3, hatch="|||",
     tex=(0, 0, 0, 0.6))
band(ax, t_span, npro_core_hi[0], npro_core_hi[1], c, alpha=0.85, hatch="|||")
seg_start = [t_span[0]] + npro_gap_end
seg_end = npro_gap_start + [t_span[1]]
for s0, s1 in zip(seg_start, seg_end):
    band(ax, [s0, s1], npro_core_lo[0], npro_core_lo[1], c, alpha=0.85, hatch="|||")
band(ax, t_span, npro_bot_sparse[0], npro_bot_sparse[1], c, alpha=0.2)
spikes(ax, npro_up_x, npro_top_sparse[1], npro_up_y, c)
spikes(ax, npro_dn_x, npro_dn_y, npro_bot_sparse[0], c)
band(ax, t_span, npro_min_band[0], npro_min_band[1], c, alpha=0.5, hatch="|||",
     tex=(0, 0, 0, 0.6))
spikes(ax, npro_dip_x, npro_dip_y, npro_min_band[0], c, lw=1.2)
line(ax, npro_mean_x, npro_mean_y, c, 2.0)
npro_ticks = [24.96, 24.98, 25.0, 25.02, 25.04, 25.06, 25.08, 25.1, 25.12, 25.14, 25.16, 25.18, 25.2]
npro_labels = ["24.96", "24.98", "25.0", "25.02", "25.04", "25.06", "25.08", "25.1", "25.12",
               "25.14", "25.16", "25.18", "25.2"]
style(ax, 8, (24.9542, 25.2164), npro_ticks, npro_labels, yhi=[25.2])

ax = make_ax(2, 1)
line(ax, t_span, relock_y, colors[9], 1.3)
style(ax, 9, (30.499, 31.502), [30.6, 30.8, 31.0, 31.2, 31.4],
      ["30.6", "30.8", "31", "31.2", "31.4"], yminor=0.1)

ax = make_ax(2, 2)
c = colors[10]
band(ax, grid35, temp_min, temp_dense_lo, c, alpha=0.5)
band(ax, grid35, temp_mean, temp_max_lo, c, alpha=0.25)
band(ax, grid35, temp_max_lo, temp_max, c, alpha=0.85)
band(ax, grid35, temp_dense_lo, temp_mean, c, alpha=0.9)
for x0, x1, lo, hi in zip(temp_blob_x0, temp_blob_x1, temp_blob_lo, temp_blob_hi):
    band(ax, [x0, x1], lo, hi, c, alpha=0.55)
spikes(ax, temp_drop_x, temp_drop_y, 4.68, c, lw=1.6, ls="-")
line(ax, grid35, temp_mean, "#74cc1c", 1.0)
style(ax, 10, (3.904, 4.932), [4.0, 4.2, 4.4, 4.6, 4.8], ["4", "4.2", "4.4", "4.6", "4.8"],
      yminor=0.1, yhi=[4.0])

ax = make_ax(2, 3)
c = colors[11]
band(ax, refl_x, refl_lo, refl_hi, c, alpha=0.85)
line(ax, refl_x, refl_mean, c, 1.5)
spikes(ax, refl_spk_x, refl_spk_y0, refl_spk_y1, c, lw=0.9)
style(ax, 11, (9.758, 10.683), [9.8, 9.9, 10.0, 10.1, 10.2, 10.3, 10.4, 10.5, 10.6],
      ["9.8", "9.9", "10", "10.1", "10.2", "10.3", "10.4", "10.5", "10.6"], yhi=[10.0])

# row 4 -------------------------------------------------------------
ax = make_ax(3, 0)
c = colors[12]
spikes(ax, trans_spk_x, trans_spk_bot, trans_spk_top, c, lw=0.9, alpha=0.85)
spikes(ax, trans_solid_x, trans_solid_bot, trans_solid_top, c, lw=1.6, ls="-")
line(ax, trans_x, trans_y, c, 2.4)
trans_ticks = [53.4, 53.6, 53.8, 54.0, 54.2, 54.4, 54.6, 54.8, 55.0, 55.2, 55.4]
trans_labels = ["53.4", "53.6", "53.8", "54", "54.2", "54.4", "54.6", "54.8", "55", "55.2", "55.4"]
style(ax, 12, (53.242, 55.506), trans_ticks, trans_labels, yhi=[54.0, 55.0])

# ---------------- teks & bilah bawah ----------------
fig.text(0.5, 1 - 1344 / H, "seconds from Mon Jul 01 2019 14:51:36 UTC [1246027914.7203]",
         ha="center", va="center", color="#d8d8d8", fontsize=10.5)

fig.add_artist(Rectangle((0, 0), 1, (H - 1361) / H, transform=fig.transFigure,
                         facecolor="#efedea", edgecolor="none"))
fig.add_artist(Rectangle((0, 1 - 2 / H), 1, 2 / H, transform=fig.transFigure,
                         facecolor="#cfcfcf", edgecolor="none"))
buttons = [("\u25b7 online", 3, 100), ("reset span", 105, 202), ("reset t0", 207, 285)]
for label, x0, x1 in buttons:
    fig.add_artist(FancyBboxPatch((x0 / W, 1 - 1386 / H), (x1 - x0) / W, 23 / H,
                                  boxstyle="round,pad=0,rounding_size=0.0015",
                                  transform=fig.transFigure, facecolor="#e4e2df",
                                  edgecolor="#a6a4a1", lw=1))
    fig.text((x0 + x1) / 2 / W, 1 - 1375 / H, label, ha="center", va="center",
             color="#2b2b2b", fontsize=9)
fig.text(4 / W, 1 - 1402 / H, "ndscope 0.7.6    NDS server: h1nds1:8088", ha="left",
         va="center", color="#222222", fontsize=9)

fig.savefig("out.png", dpi=100, facecolor="black")
